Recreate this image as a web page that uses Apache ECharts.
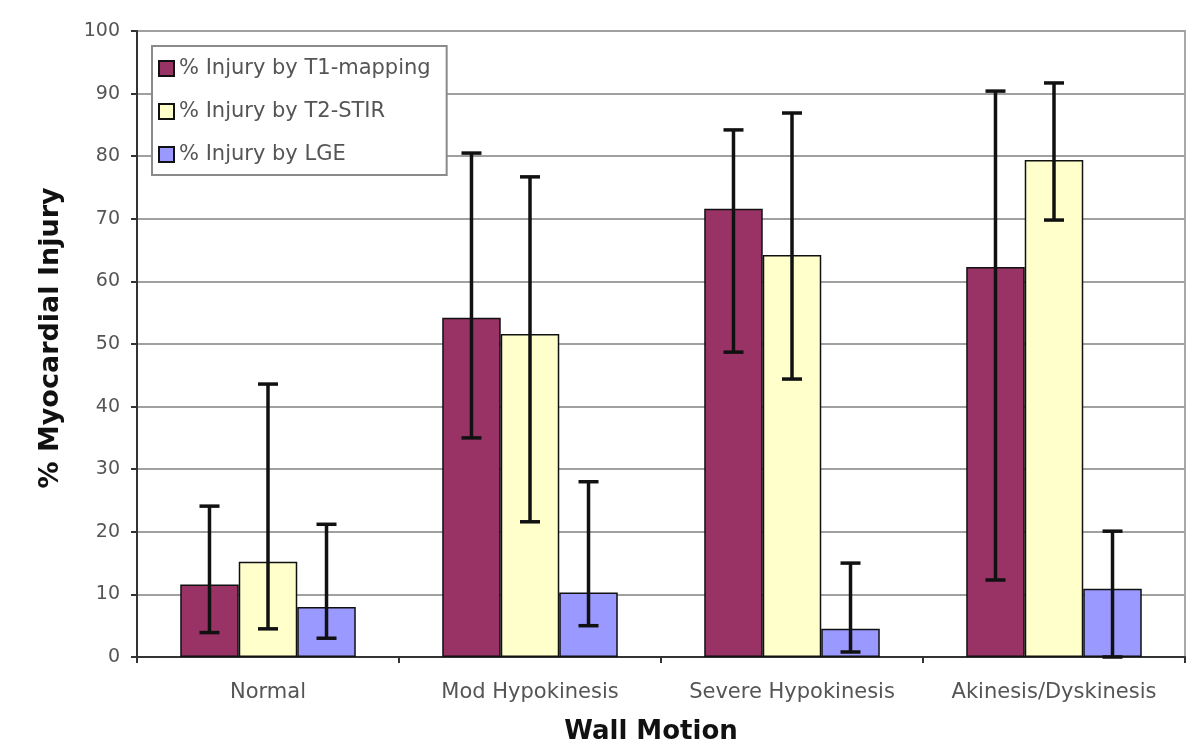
<!DOCTYPE html>
<html>
<head>
<meta charset="utf-8">
<script src="https://cdn.jsdelivr.net/npm/echarts@6/dist/echarts.min.js"></script>
<style>html,body{margin:0;padding:0;background:#fff;}#c{width:1200px;height:756px;}</style>
</head>
<body>
<div id="c"></div>
<script>
const categories = ['Normal', 'Mod Hypokinesis', 'Severe Hypokinesis', 'Akinesis/Dyskinesis'];
const seriesNames = ['% Injury by T1-mapping', '% Injury by T2-STIR', '% Injury by LGE'];
const t1Values = [11.6, 54.2, 71.6, 62.3];
const t2Values = [15.2, 51.6, 64.2, 79.4];
const lgeValues = [8.0, 10.3, 4.5, 10.9];
const t1Low = [3.9, 35.0, 48.7, 12.3];
const t1High = [24.1, 80.5, 84.2, 90.4];
const t2Low = [4.5, 21.6, 44.4, 69.8];
const t2High = [43.6, 76.7, 86.9, 91.7];
const lgeLow = [3.0, 5.0, 0.8, 0.0];
const lgeHigh = [21.2, 28.0, 15.0, 20.1];
const yTicks = [0, 10, 20, 30, 40, 50, 60, 70, 80, 90, 100];

const colors = ['#993366', '#FFFFCC', '#9999FF'];
const values = [t1Values, t2Values, lgeValues];
const lows = [t1Low, t2Low, lgeLow];
const highs = [t1High, t2High, lgeHigh];
const GAP = 0.33;
const FONT = 'DejaVu Sans, Liberation Sans, Arial';

const chart = echarts.init(document.getElementById('c'), null, {renderer: 'canvas'});

const barSeries = seriesNames.map((n, i) => ({
  name: n,
  type: 'bar',
  data: values[i],
  barGap: '0%',
  barCategoryGap: (GAP * 100) + '%',
  itemStyle: {color: colors[i], borderColor: '#111', borderWidth: 1.5},
  emphasis: {disabled: true},
  z: 2
}));

const errSeries = seriesNames.map((n, i) => ({
  type: 'custom',
  name: n + ' err',
  z: 5,
  silent: true,
  data: categories.map((c, k) => [k, lows[i][k], highs[i][k]]),
  renderItem: function (params, api) {
    const k = api.value(0);
    const band = api.size([1, 0])[0];
    const group = band * (1 - GAP);
    const bw = group / 3;
    const off = -group / 2 + bw * (i + 0.5);
    const lo = api.coord([k, api.value(1)]);
    const hi = api.coord([k, api.value(2)]);
    const x = lo[0] + off;
    const cap = 10;
    const st = {stroke: '#111', lineWidth: 3.5};
    return {
      type: 'group',
      children: [
        {type: 'line', shape: {x1: x, y1: lo[1], x2: x, y2: hi[1]}, style: st},
        {type: 'line', shape: {x1: x - cap, y1: hi[1], x2: x + cap, y2: hi[1]}, style: st},
        {type: 'line', shape: {x1: x - cap, y1: lo[1], x2: x + cap, y2: lo[1]}, style: st}
      ]
    };
  }
}));

chart.setOption({
  backgroundColor: '#ffffff',
  animation: false,
  grid: {left: 137, right: 15, top: 31, bottom: 99, outerBoundsMode: 'none', containLabel: false,
         show: true, borderColor: '#a8a8a8', borderWidth: 2},
  legend: {
    data: seriesNames,
    orient: 'vertical',
    left: 152, top: 46,
    itemWidth: 15, itemHeight: 15,
    itemGap: 22,
    padding: [12, 16, 10, 6],
    borderColor: '#8a8a8a', borderWidth: 2,
    backgroundColor: '#fff',
    textStyle: {fontFamily: FONT, fontSize: 21, color: '#555'},
    icon: 'rect',
    selectedMode: false
  },
  xAxis: {
    type: 'category',
    data: categories,
    name: 'Wall Motion',
    nameLocation: 'middle',
    nameGap: 62,
    nameTextStyle: {fontFamily: FONT, fontSize: 26, fontWeight: 'bold', color: '#111', padding: [0, 20, 0, 0]},
    axisLine: {lineStyle: {color: '#333', width: 2}},
    axisTick: {show: true, interval: 0, length: 6, lineStyle: {color: '#333', width: 2}},
    axisLabel: {fontFamily: FONT, fontSize: 21, color: '#555', margin: 25, interval: 0, hideOverlap: false},
    splitLine: {show: false}
  },
  yAxis: {
    type: 'value',
    min: 0, max: 100, interval: 10,
    name: '% Myocardial Injury',
    nameLocation: 'middle',
    nameGap: 73,
    nameRotate: 90,
    nameTextStyle: {fontFamily: FONT, fontSize: 27, fontWeight: 'bold', color: '#111', padding: [0, 0, 0, 12]},
    axisLine: {show: true, lineStyle: {color: '#333', width: 2}},
    axisTick: {show: true, length: 6, inside: false, lineStyle: {color: '#333', width: 2}},
    axisLabel: {
      fontFamily: FONT, fontSize: 19, color: '#555', margin: 17,
      formatter: v => yTicks.includes(v) ? String(v) : ''
    },
    splitLine: {show: true, lineStyle: {color: '#a0a0a0', width: 2}}
  },
  series: [...barSeries, ...errSeries]
});
</script>
</body>
</html>
